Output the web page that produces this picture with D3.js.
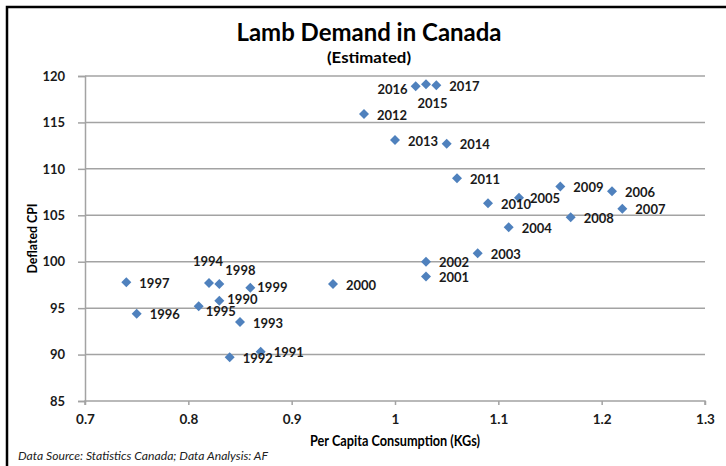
<!DOCTYPE html>
<html>
<head>
<meta charset="utf-8">
<script src="https://cdn.jsdelivr.net/npm/d3@7"></script>
<style>
  html, body { margin: 0; padding: 0; background: #fff; }
  svg { display: block; }
  text { font-family: Lato, "Open Sans", "Liberation Sans", sans-serif; }
</style>
</head>
<body>
<svg id="chart" width="726" height="466"></svg>
<script>
// ---- data ----
const years       = [1990, 1991, 1992, 1993, 1994, 1995, 1996, 1997, 1998, 1999,
                     2000, 2001, 2002, 2003, 2004, 2005, 2006, 2007, 2008, 2009,
                     2010, 2011, 2012, 2013, 2014, 2015, 2016, 2017];
const consumption = [0.83, 0.87, 0.84, 0.85, 0.82, 0.81, 0.75, 0.74, 0.83, 0.86,
                     0.94, 1.03, 1.03, 1.08, 1.11, 1.12, 1.21, 1.22, 1.17, 1.16,
                     1.09, 1.06, 0.97, 1.00, 1.05, 1.03, 1.02, 1.04];
const cpi         = [95.8, 90.3, 89.7, 93.5, 97.7, 95.2, 94.4, 97.8, 97.6, 97.2,
                     97.6, 98.4, 100.0, 100.9, 103.7, 106.9, 107.6, 105.7, 104.8, 108.1,
                     106.3, 109.0, 115.9, 113.1, 112.7, 119.1, 118.9, 119.0];
const xTicks = [0.7, 0.8, 0.9, 1.0, 1.1, 1.2, 1.3];
const yTicks = [85, 90, 95, 100, 105, 110, 115, 120];
const title = "Lamb Demand in Canada";
const subtitle = "(Estimated)";
const xTitle = "Per Capita Consumption (KGs)";
const yTitle = "Deflated CPI";
const caption = "Data Source: Statistics Canada; Data Analysis: AF";

// label placement exceptions (anchor, dx, dy); default is to the right
const labelPlace = {
  1990: ["start", 8, -1.5],
  1994: ["middle", -1, -21.5],
  1995: ["start", 7, 5],
  1998: ["start", 6, -13.5],
  1999: ["start", 7, -0.5],
  2005: ["start", 11, 1],
  2015: ["middle", 6.5, 18.7],
  2016: ["end", -8, 3]
};

// ---- drawing ----
const svg = d3.select("#chart");
const W = 726, H = 466;
const plot = { left: 85, right: 705, top: 76, bottom: 401 };

const x = d3.scaleLinear().domain([0.7, 1.3]).range([plot.left, plot.right]);
const y = d3.scaleLinear().domain([85, 120]).range([plot.bottom, plot.top]);

// outer frame (chart area border, partially cropped)
svg.append("rect")
  .attr("x", 7).attr("y", 7)
  .attr("width", W + 20).attr("height", H + 20)
  .attr("fill", "none").attr("stroke", "#000").attr("stroke-width", 2.5);

// gridlines
svg.append("g")
  .selectAll("line").data(yTicks.filter(d => d !== 85)).join("line")
  .attr("x1", plot.left).attr("x2", plot.right)
  .attr("y1", d => y(d)).attr("y2", d => y(d))
  .attr("stroke", "#a3a3a3").attr("stroke-width", 1.5);

// y axis
const yAxis = svg.append("g")
  .attr("transform", `translate(${plot.left},0)`)
  .call(d3.axisLeft(y).tickValues(yTicks).tickSize(7).tickPadding(13).tickFormat(d3.format("d")));
yAxis.select(".domain").attr("stroke", "#a3a3a3").attr("stroke-width", 1.5);
yAxis.selectAll(".tick line").attr("stroke", "#a3a3a3").attr("stroke-width", 1.5);
yAxis.selectAll(".tick text")
  .attr("font-size", 13).attr("font-weight", "bold").attr("fill", "#1a1a1a")
  .style("font-family", "Lato, sans-serif");

// x axis
const xAxis = svg.append("g")
  .attr("transform", `translate(0,${plot.bottom})`)
  .call(d3.axisBottom(x).tickValues(xTicks).tickSize(4).tickPadding(9)
        .tickFormat(d => d3.format("~g")(d)));
xAxis.select(".domain").attr("stroke", "#a3a3a3").attr("stroke-width", 1.5)
  .attr("d", `M${plot.left},4V0H${plot.right}V4`);
xAxis.selectAll(".tick line").attr("stroke", "#a3a3a3").attr("stroke-width", 1.5);
xAxis.selectAll(".tick text")
  .attr("font-size", 13.5).attr("font-weight", "bold").attr("fill", "#1a1a1a")
  .style("font-family", "Lato, sans-serif");

// titles
svg.append("text")
  .attr("x", 369).attr("y", 41)
  .attr("text-anchor", "middle").attr("font-size", 24.5).attr("font-weight", "bold")
  .attr("fill", "#000").attr("textLength", 265).attr("lengthAdjust", "spacingAndGlyphs")
  .text(title);
svg.append("text")
  .attr("x", 369).attr("y", 63)
  .attr("text-anchor", "middle").attr("font-size", 16).attr("font-weight", "bold")
  .attr("fill", "#000").attr("textLength", 84).attr("lengthAdjust", "spacingAndGlyphs")
  .text(subtitle);
svg.append("text")
  .attr("x", (plot.left + plot.right) / 2).attr("y", 446)
  .attr("text-anchor", "middle").attr("font-size", 15).attr("font-weight", "bold")
  .attr("fill", "#000").attr("textLength", 170).attr("lengthAdjust", "spacingAndGlyphs")
  .text(xTitle);
svg.append("text")
  .attr("transform", `translate(37,${(plot.top + plot.bottom) / 2}) rotate(-90)`)
  .attr("text-anchor", "middle").attr("font-size", 14).attr("font-weight", "bold")
  .attr("fill", "#000").attr("textLength", 70).attr("lengthAdjust", "spacingAndGlyphs")
  .text(yTitle);
svg.append("text")
  .attr("x", 18).attr("y", 460)
  .attr("font-size", 11.5).attr("font-style", "italic")
  .attr("fill", "#222").attr("textLength", 250).attr("lengthAdjust", "spacingAndGlyphs")
  .text(caption);

// points
const pts = years.map((yr, i) => ({ year: yr, cx: consumption[i], cpi: cpi[i] }));
const diamond = d3.symbol(d3.symbolSquare, 50);
svg.append("g")
  .selectAll("path").data(pts).join("path")
  .attr("d", diamond)
  .attr("transform", d => `translate(${x(d.cx)},${y(d.cpi)}) rotate(45)`)
  .attr("fill", "#4f81bd");

// data labels
svg.append("g")
  .selectAll("text").data(pts).join("text")
  .each(function (d) {
    const p = labelPlace[d.year] || ["start", 13, 1];
    d3.select(this)
      .attr("x", x(d.cx) + p[1])
      .attr("y", y(d.cpi) + p[2])
      .attr("text-anchor", p[0]);
  })
  .attr("dy", "0.35em")
  .attr("font-size", 13).attr("font-weight", "bold").attr("fill", "#1a1a1a")
  .text(d => d.year);
</script>
</body>
</html>
